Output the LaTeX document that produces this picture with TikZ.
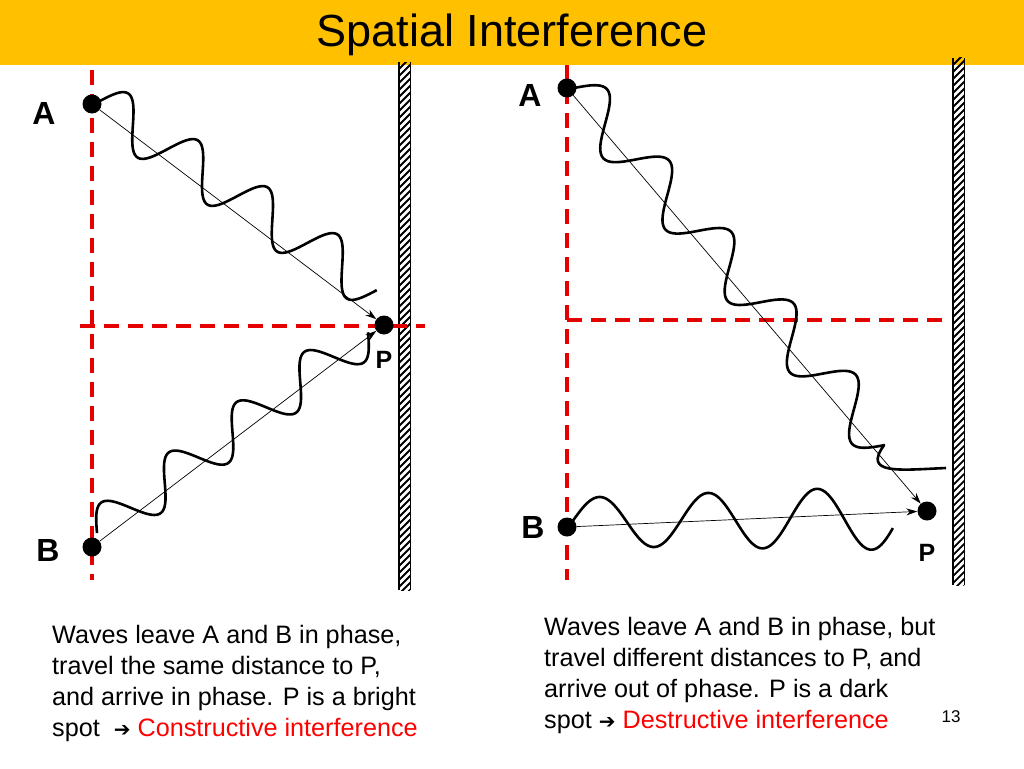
\documentclass[tikz,border=0pt]{standalone}
\usepackage{fontspec}
\setmainfont{Liberation Sans}
\newfontfamily\djv{DejaVu Sans}
\usetikzlibrary{arrows.meta}
\begin{document}
\begin{tikzpicture}[x=1pt,y=-1pt,
  reddash/.style={draw=red!90!black,line width=3.5pt,dash pattern=on 15pt off 9pt},
  dot/.style={circle,fill=black,inner sep=0pt,minimum size=19pt},
  big/.style={font=\bfseries\fontsize{32}{32}\selectfont},
  small/.style={font=\bfseries\fontsize{25}{25}\selectfont},
  wave/.style={line width=2.6pt,line join=round},
  ray/.style={line width=0.7pt,-{Stealth[length=11pt,width=7pt]}},
  body/.style={font=\fontsize{25.2}{31}\selectfont,align=left,anchor=north west,inner sep=0pt}]
\useasboundingbox (0,0) rectangle (1024,768);
\fill[white] (0,0) rectangle (1024,768);
\definecolor{ttl}{HTML}{FFC000}
\fill[ttl] (0,0) rectangle (1024,65);
\node[font=\fontsize{45}{45}\selectfont] (title) at (512,35) {Spatial Interference};
% walls
\foreach \wx/\wa/\wb in {404/62/590, 958/58/585}{
  \begin{scope}
  \clip (\wx-5,\wa) rectangle (\wx+6,\wb);
  \foreach \k in {0,7,...,540} \draw[line width=1.8pt] (\wx-7,\wa+\k+9) -- (\wx+8,\wa+\k-6);
  \end{scope}
  \draw[line width=1.5pt] (\wx-5,\wa) -- (\wx-5,\wb);
  \draw[line width=0.8pt] (\wx+6,\wa) -- (\wx+6,\wb);
}
% left panel
\draw[reddash] (92,70) -- (92,580);
\draw[reddash] (80,326) -- (425,326);
\node[dot] (A1) at (92,104) {};
\node[dot] (B1) at (92,547) {};
\node[dot] (P1) at (384,325) {};
\node[big] (lA1) at (44,113) {A};
\node[big] (lB1) at (48,550) {B};
\node[small] (lP1) at (384,360) {P};
\draw[wave] plot[domain=0:1,samples=160,smooth] ({98+\x*(377-98)+24*sin(360*4*\x)*0.536},{102+\x*(290-102)-24*sin(360*4*\x)*0.844});
\draw[wave] plot[domain=0:1,samples=160,smooth] ({97+\x*(368-97)-22*sin(360*4*\x)*0.585},{533+\x*(332-533)-22*sin(360*4*\x)*0.811});
\draw[ray] (A1) -- (P1);
\draw[ray] (B1) -- (P1);
% right panel
\draw[reddash] (567,65) -- (567,580);
\draw[reddash] (567,320) -- (945,320);
\node[dot] (A2) at (567,88) {};
\node[dot] (B2) at (567,527) {};
\node[dot] (P2) at (927,511) {};
\node[big] (lA2) at (530,95) {A};
\node[big] (lB2) at (533,527) {B};
\node[small] (lP2) at (927,553) {P};
\draw[wave] plot[domain=0:1,samples=200,smooth] ({574+\x*(885-574)+24*sin(360*5*\x)*0.73},{88+\x*(445-88)-24*sin(360*5*\x)*0.69}) .. controls (862,475) and (900,470) .. (946,468);
\draw[wave] plot[domain=0:1,samples=160,smooth] ({572+\x*(893-572)},{522-\x*4-(24+8*\x)*sin(360*2.95*\x)});
\draw[ray] (A2) -- (P2);
\draw[ray] (B2) -- (P2);
% texts
\node[body] (t1) at (52,625) {Waves leave A and B in phase,\\travel the same distance to P,\\and arrive in phase. P is a bright\\spot \ {\djv\fontsize{20}{20}\selectfont ➔} \textcolor{red}{Constructive interference}};
\node[body] (t2) at (544,617) {Waves leave A and B in phase, but\\travel different distances to P, and\\arrive out of phase. P is a dark\\spot {\djv\fontsize{20}{20}\selectfont ➔} \textcolor{red}{Destructive interference}};
\node[font=\fontsize{17}{17}\selectfont] (num) at (951,717) {13};
\end{tikzpicture}
\end{document}
